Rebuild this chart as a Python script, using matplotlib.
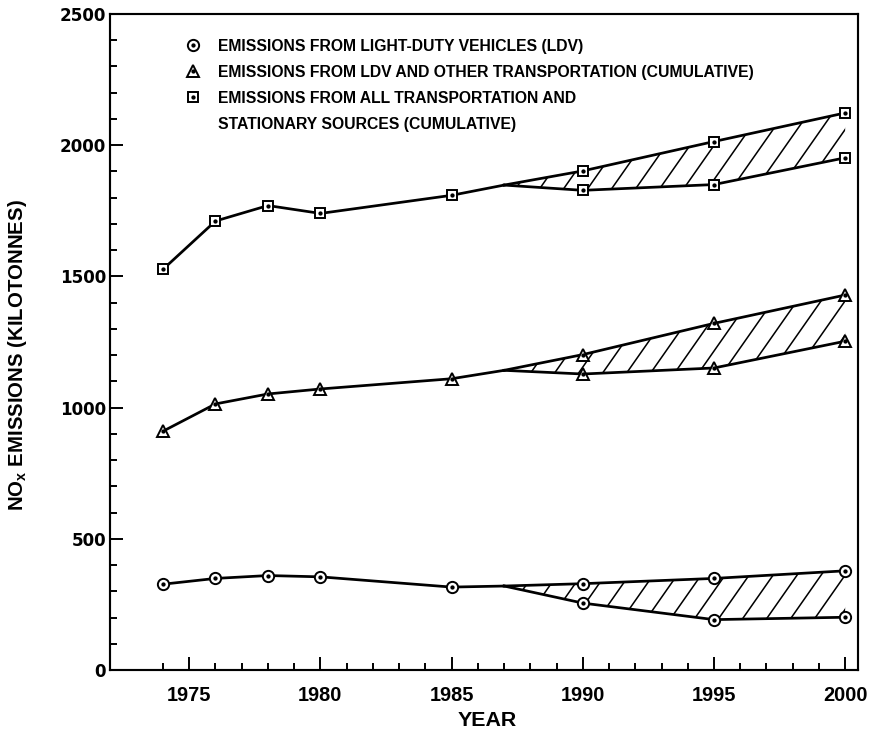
import numpy as np
import matplotlib
matplotlib.use('Agg')
import matplotlib.pyplot as plt
from matplotlib.collections import LineCollection
from matplotlib.lines import Line2D

# values (kilotonnes)
years_hist = [1974, 1976, 1978, 1980, 1985]
years_proj = [1987, 1990, 1995, 2000]

ldv_hist = [327, 349, 360, 355, 316]
ldv_high = [320, 329, 349, 378]
ldv_low = [320, 255, 192, 201]

trans_hist = [910, 1014, 1052, 1071, 1110]
trans_high = [1142, 1202, 1321, 1429]
trans_low = [1142, 1128, 1151, 1253]

all_hist = [1527, 1711, 1770, 1740, 1809]
all_high = [1848, 1902, 2014, 2123]
all_low = [1848, 1828, 1850, 1952]

legend_labels = ['EMISSIONS FROM LIGHT-DUTY VEHICLES (LDV)',
                 'EMISSIONS FROM LDV AND OTHER TRANSPORTATION (CUMULATIVE)',
                 'EMISSIONS FROM ALL TRANSPORTATION AND',
                 'STATIONARY SOURCES (CUMULATIVE)']

narrow = ['Liberation Sans', 'DejaVu Sans']
DPI = 140
W, H = 871, 739

fig = plt.figure(figsize=(W / DPI, H / DPI), dpi=DPI)
ax_l, ax_r, ax_t, ax_b = 110, 857.5, 14, 670
ax = fig.add_axes([ax_l / W, 1 - ax_b / H, (ax_r - ax_l) / W, (ax_b - ax_t) / H])
ax.set_xlim(1971.98, 2000.47)
ax.set_ylim(0, 2500)

axw = ax_r - ax_l
axh = ax_b - ax_t
# hatch lines, drawn in axes space and clipped to the band between projections
slope = np.tan(np.radians(55)) * axw / axh
step = 24 / axw
starts = np.arange(-1 / slope, 1.0, step)
hatch_segs = [[(x0, 0), (x0 + 1 / slope, 1)] for x0 in starts]

series = [(ldv_hist, ldv_high, ldv_low, 'o', 5.8),
          (trans_hist, trans_high, trans_low, '^', 6.6),
          (all_hist, all_high, all_low, 's', 5.2)]

handles = []
for hist, high, low, mk, ms in series:
    ax.plot(years_hist + years_proj[:1], hist + high[:1], color='black', lw=1.4, zorder=3)
    ax.plot(years_proj, high, color='black', lw=1.4, zorder=3)
    ax.plot(years_proj, low, color='black', lw=1.4, zorder=3)

    poly = ax.fill_between(years_proj, low, high, facecolor='none', edgecolor='none')
    lc = LineCollection(hatch_segs, transform=ax.transAxes, colors='black', linewidths=0.8, zorder=2)
    lc.set_clip_path(poly.get_paths()[0], ax.transData)
    ax.add_collection(lc, autolim=False)

    for xs, ys in [(years_hist, hist), (years_proj[1:], high[1:]), (years_proj[1:], low[1:])]:
        ax.plot(xs, ys, ls='none', marker=mk, ms=ms, mfc='white', mec='black', mew=1.0, zorder=4)
        ax.plot(xs, ys, ls='none', marker='o', ms=1.2, color='black', zorder=5)

    h1 = Line2D([], [], ls='none', marker=mk, ms=ms, mfc='white', mec='black', mew=1.0)
    h2 = Line2D([], [], ls='none', marker='o', ms=1.2, color='black')
    handles.append((h1, h2))

handles.append(Line2D([], [], ls='none'))
ax.legend(handles, legend_labels, loc='upper left', bbox_to_anchor=(0.1005, 0.962),
          frameon=False, handlelength=1.0, handletextpad=1.1, labelspacing=0.7,
          borderpad=0, borderaxespad=0,
          prop={'family': narrow, 'weight': 'bold', 'size': 8.1})

ax.set_xticks(range(1975, 2001, 5))
ax.set_xticks(range(1974, 2001), minor=True)
ax.set_yticks(range(0, 2501, 500))
ax.set_yticks(range(100, 2500, 100), minor=True)
ax.tick_params(which='major', direction='in', length=6.7, width=1.0)
ax.tick_params(which='minor', direction='in', length=3.6, width=1.0)
ax.tick_params(axis='x', which='major', pad=8)
ax.tick_params(axis='y', which='major', pad=2)
ax.tick_params(right=False, top=False, which='both')

for lab in ax.get_xticklabels():
    lab.set_family(narrow)
    lab.set_fontweight('bold')
    lab.set_fontsize(10.3)
for lab in ax.get_yticklabels():
    lab.set_family('DejaVu Sans')
    lab.set_fontweight('bold')
    lab.set_fontsize(8.6)

for sp in ax.spines.values():
    sp.set_linewidth(1.1)

ax.set_xlabel('YEAR', family=narrow, fontweight='bold', fontsize=11)
ax.xaxis.set_label_coords(0.504, -0.062)
ax.set_ylabel(r'NO$_\mathregular{x}$ EMISSIONS (KILOTONNES)', family=narrow,
              fontweight='bold', fontsize=10.5)
ax.yaxis.set_label_coords(-0.108, 0.48)

fig.savefig('out.png', dpi=DPI)
